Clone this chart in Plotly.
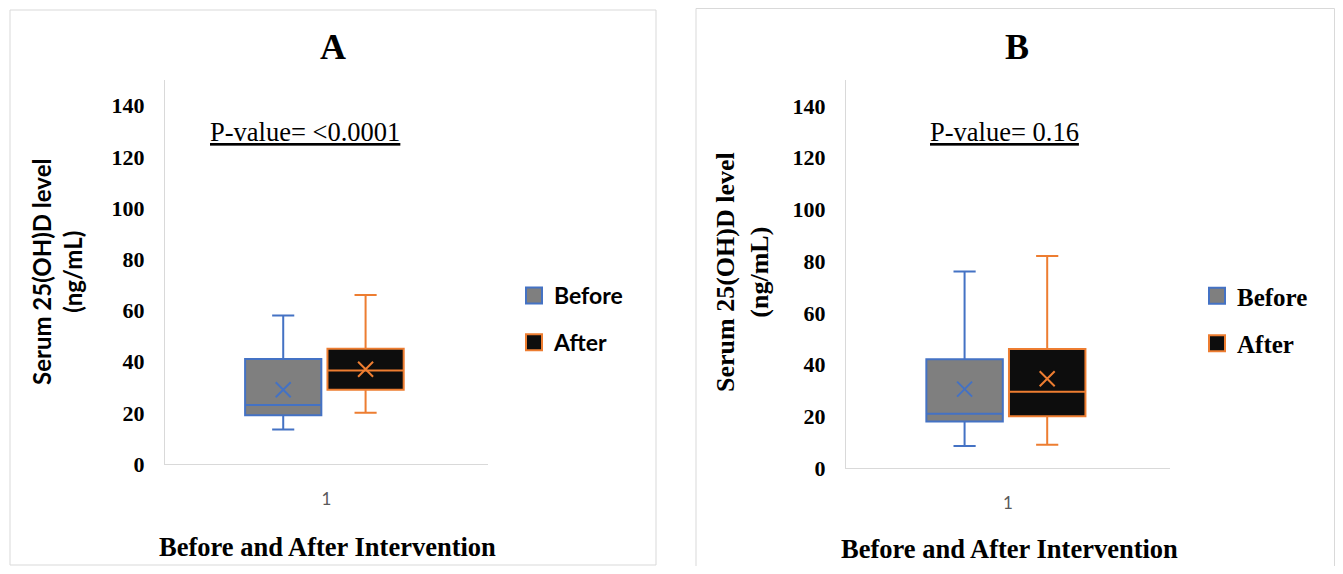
import plotly.graph_objects as go

# ---------------- data ----------------
categories = ["1"]
series = ["Before", "After"]

# Panel A (five-number summary + mean), ng/mL
a_lower = [13.5, 20.0]
a_q1 = [19.0, 29.0]
a_median = [23.0, 36.5]
a_q3 = [41.0, 45.0]
a_upper = [58.0, 66.0]
a_mean = [29.0, 37.0]

# Panel B
b_lower = [8.5, 9.0]
b_q1 = [18.0, 20.0]
b_median = [21.0, 29.5]
b_q3 = [42.0, 46.0]
b_upper = [76.0, 82.0]
b_mean = [30.5, 34.5]

y_ticks = [0, 20, 40, 60, 80, 100, 120, 140]
p_values = ["P-value= <0.0001", "P-value= 0.16"]
panel_titles = ["A", "B"]

# ---------------- styles / layout ----------------
PAGE_MARGIN = 8                     # default body margin of the html page
W = 1343 - 2 * PAGE_MARGIN          # page exactly as wide as the window
H = 574 - 2 * PAGE_MARGIN           # page exactly as tall as the window
LINE_COLORS = ["#4472C4", "#ED7D31"]
FILL_COLORS = ["#7F7F7F", "#0D0D0D"]
GROUP_OFFSETS = [-0.134, 0.121]
BOX_WIDTH = 0.236
SERIF = "Liberation Serif, Times New Roman, serif"
SANS = "Lato, Open Sans, sans-serif"


def px(x):
    """window pixel x -> paper fraction"""
    return (x - PAGE_MARGIN) / W


def py(y):
    """window pixel y -> paper fraction"""
    return 1 - (y - PAGE_MARGIN) / H


fig = go.Figure()

panels = [
    dict(x="x", y="y", leg="legend", stats=(a_lower, a_q1, a_median, a_q3, a_upper, a_mean)),
    dict(x="x2", y="y2", leg="legend2", stats=(b_lower, b_q1, b_median, b_q3, b_upper, b_mean)),
]

cat_pos = 1.0
for p in panels:
    lo, q1, med, q3, up, mn = p["stats"]
    for i, name in enumerate(series):
        xpos = cat_pos + GROUP_OFFSETS[i]
        fig.add_trace(go.Box(
            x=[xpos], lowerfence=[lo[i]], q1=[q1[i]], median=[med[i]], q3=[q3[i]],
            upperfence=[up[i]], width=BOX_WIDTH, whiskerwidth=0.29,
            fillcolor=FILL_COLORS[i], line=dict(color=LINE_COLORS[i], width=2),
            boxpoints=False, showlegend=False, name=name,
            xaxis=p["x"], yaxis=p["y"], hoverinfo="skip",
        ))
        fig.add_trace(go.Scatter(
            x=[xpos], y=[mn[i]], mode="markers",
            marker=dict(symbol="x-thin", size=15, line=dict(width=2, color=LINE_COLORS[i])),
            showlegend=False, xaxis=p["x"], yaxis=p["y"], hoverinfo="skip",
        ))
    for i, name in enumerate(series):
        fig.add_trace(go.Scatter(
            x=[None], y=[None], mode="markers", name=name,
            marker=dict(symbol="square", size=16, color=FILL_COLORS[i],
                        line=dict(width=2, color=LINE_COLORS[i])),
            legend=p["leg"], legendgroup=p["leg"] + name,
            xaxis=p["x"], yaxis=p["y"],
        ))

axis_common = dict(showgrid=False, zeroline=False, showline=True, linecolor="#D9D9D9",
                   linewidth=1, ticks="", automargin=False)

xa = dict(axis_common, range=[0.5, 1.5], tickvals=[cat_pos], ticktext=categories,
          tickfont=dict(family=SANS, size=17, color="#595959"), ticklabelstandoff=20)
ya = dict(axis_common, range=[0, 150], tickvals=y_ticks,
          tickfont=dict(family=SERIF, size=22, color="#000000", weight="bold"),
          ticklabelstandoff=15)

fig.update_layout(
    width=W, height=H, autosize=False,
    margin=dict(l=0, r=0, t=0, b=0, pad=0, autoexpand=False),
    paper_bgcolor="white", plot_bgcolor="white",
    xaxis=dict(xa, domain=[px(165), px(488)], anchor="y"),
    yaxis=dict(ya, domain=[py(464), py(80)], anchor="x"),
    xaxis2=dict(xa, domain=[px(846), px(1170)], anchor="y2"),
    yaxis2=dict(ya, domain=[py(468), py(80)], anchor="x2"),
    legend=dict(x=px(514), y=py(274), xanchor="left", yanchor="top",
                font=dict(family=SANS, size=23, color="#000", weight="bold"),
                tracegroupgap=14, bgcolor="rgba(0,0,0,0)"),
    legend2=dict(x=px(1197), y=py(273), xanchor="left", yanchor="top",
                 font=dict(family=SERIF, size=25, color="#000", weight="bold"),
                 tracegroupgap=12, bgcolor="rgba(0,0,0,0)"),
)

# panel frames
fig.add_shape(type="rect", xref="paper", yref="paper", x0=px(10), x1=px(656),
              y0=py(565), y1=py(10), line=dict(color="#D9D9D9", width=1), layer="below")
fig.add_shape(type="rect", xref="paper", yref="paper", x0=px(696), x1=px(1334.5),
              y0=py(585), y1=py(8.5), line=dict(color="#D9D9D9", width=1), layer="below")

ann = []
# panel titles
ann.append(dict(text="<b>%s</b>" % panel_titles[0], x=px(333), y=py(47), font=dict(family=SERIF, size=36)))
ann.append(dict(text="<b>%s</b>" % panel_titles[1], x=px(1017), y=py(47), font=dict(family=SERIF, size=36)))
# p-values
ann.append(dict(text="<u>%s</u>" % p_values[0], x=px(305), y=py(132), font=dict(family=SERIF, size=26.5)))
ann.append(dict(text="<u>%s</u>" % p_values[1], x=px(1004), y=py(132), font=dict(family=SERIF, size=26.5)))
# x axis titles
ann.append(dict(text="<b>Before and After Intervention</b>", x=px(327), y=py(547), font=dict(family=SERIF, size=26.5)))
ann.append(dict(text="<b>Before and After Intervention</b>", x=px(1009), y=py(549), font=dict(family=SERIF, size=26.5)))
# y axis titles
ann.append(dict(text="<b>Serum 25(OH)D level<br>(ng/mL)</b>", x=px(57), y=py(272), textangle=-90,
                font=dict(family=SANS, size=24)))
ann.append(dict(text="<b>Serum 25(OH)D level<br>(ng/mL)</b>", x=px(742), y=py(272), textangle=-90,
                font=dict(family=SERIF, size=26)))

for a in ann:
    a.update(xref="paper", yref="paper", showarrow=False, xanchor="center", yanchor="middle")
    a["font"] = dict(a["font"], color="#000000")
    fig.add_annotation(**a)

fig.write_html("out.html", config={"displayModeBar": False})
